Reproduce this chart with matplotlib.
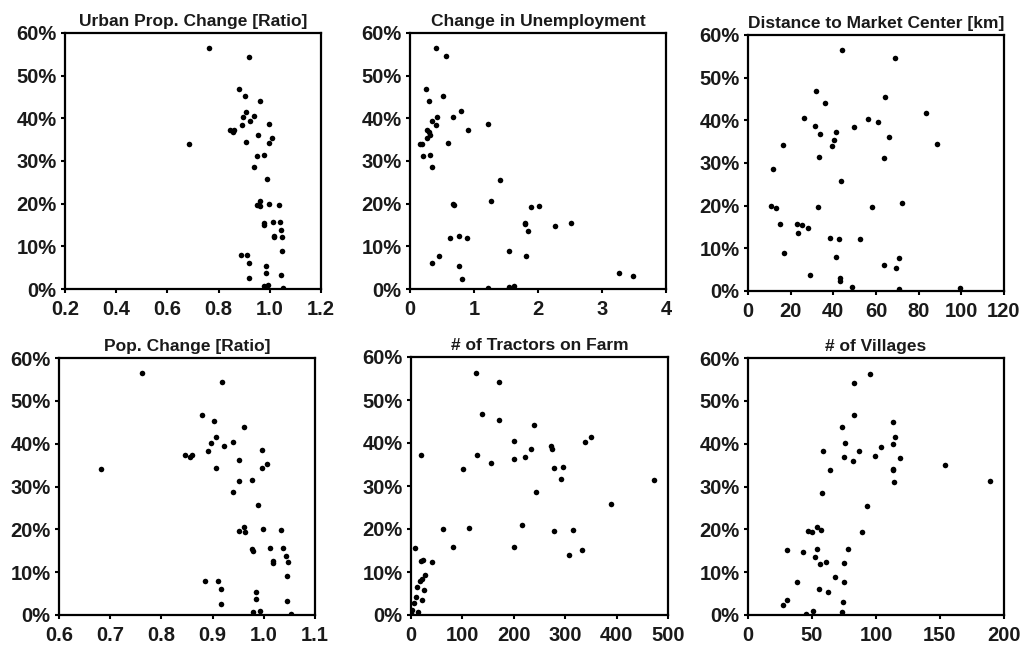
#!/usr/bin/env python3
"""
Six scatter panels: share (%) vs. regional characteristics
"""

import matplotlib
matplotlib.use('Agg')
import matplotlib.pyplot as plt
from matplotlib.ticker import FuncFormatter, FormatStrFormatter, MultipleLocator

plt.rcParams['font.family'] = ['Liberation Sans', 'DejaVu Sans']
plt.rcParams['font.weight'] = 'bold'

# Urban proportion change [ratio] (panel 1) / population change [ratio] (panel 4)
ratio_x = [0.763, 0.919, 0.880, 0.903, 0.962, 0.907, 0.897, 0.940, 0.922, 0.997,
           0.891, 0.846, 0.856, 0.860, 0.952, 1.007, 0.996, 0.907, 0.683, 0.951,
           0.977, 0.940, 0.988, 0.961, 0.951, 0.963, 0.998, 1.034, 0.977, 0.979,
           1.012, 1.038, 1.044, 1.018, 1.018, 1.047, 1.046, 0.886, 0.910, 0.917,
           0.984, 0.985, 1.045, 0.917, 0.979, 0.993, 1.053]
ratio_y = [56.4, 54.4, 46.8, 45.3, 44.0, 41.6, 40.2, 40.5, 39.4, 38.6,
           38.4, 37.3, 36.8, 37.3, 36.2, 35.3, 34.3, 34.4, 34.1, 31.2,
           31.5, 28.6, 25.7, 20.6, 19.7, 19.4, 20.0, 19.8, 15.4, 14.9,
           15.6, 15.6, 13.8, 12.5, 12.1, 12.3, 9.0, 7.9, 7.9, 6.1,
           5.4, 3.8, 3.3, 2.5, 0.7, 1.0, 0.3]

# Change in unemployment
unemp_x = [0.41, 0.56, 0.25, 0.52, 0.30, 0.79, 0.67, 0.42, 0.34, 1.22,
           0.41, 0.27, 0.29, 0.31, 0.26, 0.91, 0.60, 0.16, 0.18, 0.20,
           0.31, 0.34, 1.41, 0.67, 0.69, 1.26, 1.89, 2.02, 1.80, 1.79,
           2.51, 2.27, 1.84, 0.63, 0.77, 0.89, 1.55, 1.82, 0.46, 0.35,
           0.77, 3.26, 3.48, 0.82, 1.22, 1.55, 1.62]
unemp_y = [56.5, 54.5, 46.8, 45.3, 44.1, 41.7, 40.4, 40.2, 39.4, 38.6,
           38.4, 37.3, 36.8, 36.2, 35.4, 37.2, 34.3, 34.1, 34.0, 31.2,
           31.4, 28.5, 25.5, 19.9, 19.6, 20.6, 19.2, 19.5, 15.5, 15.2,
           15.5, 14.7, 13.6, 12.0, 12.4, 12.0, 8.8, 7.8, 7.7, 6.0,
           5.3, 3.7, 3.1, 2.35, 0.15, 0.4, 0.8]

# Distance to market center [km]
dist_x = [44.1, 69.0, 32.1, 64.0, 36.0, 83.3, 26.1, 56.2, 60.9, 31.3,
          49.9, 41.2, 33.8, 65.9, 40.5, 88.4, 16.3, 39.3, 33.3, 63.8,
          11.6, 43.7, 72.3, 10.6, 32.7, 58.0, 13.3, 14.9, 23.2, 25.4,
          27.9, 23.6, 38.5, 42.7, 52.6, 16.9, 41.2, 70.7, 63.7, 69.6,
          29.0, 42.9, 42.9, 48.8, 71.0, 99.2]
dist_y = [56.6, 54.5, 46.9, 45.4, 44.1, 41.7, 40.5, 40.3, 39.5, 38.7,
          38.4, 37.3, 36.8, 36.2, 35.3, 34.4, 34.3, 34.0, 31.4, 31.2,
          28.6, 25.7, 20.7, 20.0, 19.8, 19.6, 19.4, 15.6, 15.6, 15.4,
          14.8, 13.6, 12.5, 12.2, 12.2, 8.9, 7.9, 7.8, 6.0, 5.4,
          3.7, 3.1, 2.4, 1.0, 0.4, 0.7]

# Number of tractors on farm
tract_x = [127, 172, 139, 172, 239, 350, 338, 201, 273, 275,
           233, 20, 129, 221, 201, 155, 101, 279, 295, 291,
           472, 243, 390, 216, 62, 112, 278, 316, 82, 201,
           308, 333, 7, 19, 23, 41, 27, 22, 18, 12,
           26, 9, 21, 6, 13, 1, 0]
tract_y = [56.2, 54.3, 46.8, 45.3, 44.1, 41.5, 40.2, 40.4, 39.4, 38.5,
           38.7, 37.2, 37.2, 36.7, 36.2, 35.3, 34.0, 34.3, 34.5, 31.6,
           31.3, 28.7, 25.8, 20.9, 20.0, 20.2, 19.6, 19.8, 15.9, 15.9,
           14.0, 15.1, 15.6, 12.5, 12.8, 12.4, 9.3, 8.3, 7.8, 6.4,
           5.8, 4.1, 3.4, 2.9, 0.8, 1.2, 0.5]

# Number of villages
vill_x = [95.2, 82.9, 82.9, 112.9, 73.3, 115.2, 112.9, 76.1, 104.0, 58.4,
          87.1, 99.3, 75.1, 118.9, 81.9, 154.1, 112.9, 112.9, 64.1, 114.2,
          189.0, 58.1, 92.8, 54.2, 46.9, 50.0, 57.4, 89.2, 30.2, 54.2,
          78.2, 43.0, 52.2, 56.1, 61.3, 75.1, 68.1, 38.3, 75.1, 55.3,
          62.3, 30.2, 74.1, 27.1, 51.1, 45.1, 73.3]
vill_y = [56.3, 54.2, 46.6, 45.1, 43.8, 41.5, 40.0, 40.2, 39.2, 38.4,
          38.2, 37.1, 37.0, 36.6, 35.9, 35.1, 34.1, 33.9, 33.8, 31.0,
          31.3, 28.4, 25.5, 20.6, 19.6, 19.4, 19.9, 19.3, 15.2, 15.5,
          15.4, 14.7, 13.6, 12.0, 12.4, 12.1, 8.8, 7.8, 7.7, 6.0,
          5.3, 3.6, 3.1, 2.3, 1.0, 0.2, 0.6]

FIG_W, FIG_H = 1023, 646

# (title, x, y, xlim, xstep, xfmt, pixel box left/top/right/bottom)
panels = [
    ('Urban Prop. Change [Ratio]', ratio_x, ratio_y, (0.2, 1.2), 0.2, '%.1f', (65, 33, 321, 289)),
    ('Change in Unemployment', unemp_x, unemp_y, (0, 4), 1, '%d', (410, 33, 666, 289)),
    ('Distance to Market Center [km]', dist_x, dist_y, (0, 120), 20, '%d', (748, 35, 1004, 291)),
    ('Pop. Change [Ratio]', ratio_x, ratio_y, (0.6, 1.1), 0.1, '%.1f', (59, 358, 315, 615)),
    ('# of Tractors on Farm', tract_x, tract_y, (0, 500), 100, '%d', (411, 357, 668, 615)),
    ('# of Villages', vill_x, vill_y, (0, 200), 50, '%d', (748, 358, 1004, 615)),
]


def make_axes(fig, box):
    l, t, r, b = box
    return fig.add_axes([l / FIG_W, 1 - b / FIG_H, (r - l) / FIG_W, (b - t) / FIG_H])


def main():
    fig = plt.figure(figsize=(FIG_W / 100, FIG_H / 100), dpi=100)

    for title, xs, ys, xlim, xstep, xfmt, box in panels:
        ax = make_axes(fig, box)
        ax.plot(xs, ys, 'o', color='black', markersize=4, markeredgewidth=0)
        ax.set_xlim(*xlim)
        ax.set_ylim(0, 60)
        ax.xaxis.set_major_locator(MultipleLocator(xstep))
        ax.yaxis.set_major_locator(MultipleLocator(10))
        ax.xaxis.set_major_formatter(FormatStrFormatter(xfmt))
        ax.yaxis.set_major_formatter(FuncFormatter(lambda v, p: f'{v:.0f}%'))
        ax.tick_params(direction='out', length=3, width=1.5, labelsize=14.5,
                       colors='black', pad=3)
        ax.tick_params(axis='x', pad=5)
        for lab in ax.get_xticklabels() + ax.get_yticklabels():
            lab.set_fontweight('bold')
            lab.set_color('#1a1a1a')
        for sp in ax.spines.values():
            sp.set_linewidth(1.6)
            sp.set_color('black')
        ax.set_title(title, fontsize=12.5, fontweight='bold', pad=5, color='#1a1a1a')

    fig.savefig('out.png', dpi=100)


if __name__ == '__main__':
    main()
